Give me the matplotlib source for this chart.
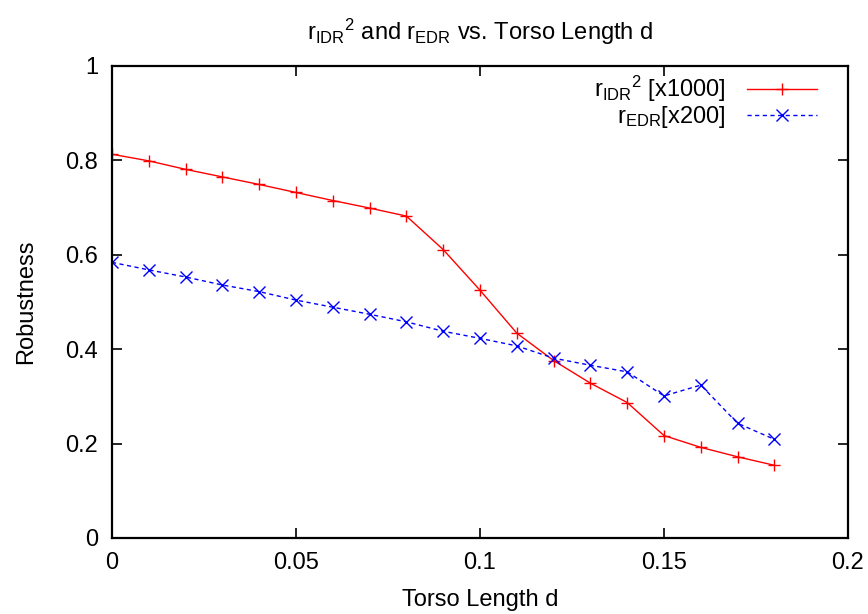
import matplotlib
matplotlib.use("Agg")
import matplotlib.pyplot as plt

plt.rcParams['font.family'] = ['Liberation Sans', 'DejaVu Sans']
plt.rcParams['mathtext.fontset'] = 'custom'
plt.rcParams['mathtext.rm'] = 'Liberation Sans'
plt.rcParams['mathtext.it'] = 'Liberation Sans'

torso_length = [0.00, 0.01, 0.02, 0.03, 0.04, 0.05, 0.06, 0.07, 0.08, 0.09,
                0.10, 0.11, 0.12, 0.13, 0.14, 0.15, 0.16, 0.17, 0.18]
r_idr_sq = [0.813, 0.799, 0.781, 0.765, 0.749, 0.732, 0.715, 0.699, 0.682, 0.611,
            0.525, 0.434, 0.376, 0.328, 0.287, 0.217, 0.192, 0.172, 0.154]
r_edr = [0.584, 0.568, 0.553, 0.536, 0.522, 0.504, 0.489, 0.474, 0.458, 0.438,
         0.423, 0.407, 0.381, 0.366, 0.352, 0.301, 0.324, 0.243, 0.209]

x_ticks = [0, 0.05, 0.1, 0.15, 0.2]
x_tick_labels = ['0', '0.05', '0.1', '0.15', '0.2']
y_ticks = [0, 0.2, 0.4, 0.6, 0.8, 1]
y_tick_labels = ['0', '0.2', '0.4', '0.6', '0.8', '1']

FS = 17

fig = plt.figure(figsize=(8.68, 6.14), dpi=100)
ax = fig.add_axes([112 / 868, 1 - 538 / 614, (848 - 112) / 868, (538 - 66) / 614])

ax.plot(torso_length, r_idr_sq, color='#ff0000', lw=1.0, marker='+', ms=9,
        mew=1.0, label=r'$\mathregular{r_{IDR}}^{\mathregular{2}}$ [x1000]')
ax.plot(torso_length, r_edr, color='#0000ff', lw=1.0, ls=(0, (3, 2.5)), marker='x',
        ms=8.5, mew=1.0, label=r'$\mathregular{r_{EDR}}$[x200]')

ax.set_xlim(0, 0.2)
ax.set_ylim(0, 1)
ax.set_xticks(x_ticks)
ax.set_xticklabels(x_tick_labels)
ax.set_yticks(y_ticks)
ax.set_yticklabels(y_tick_labels)
ax.tick_params(direction='in', length=7, width=1.2, top=True, right=True,
               labelsize=FS, pad=10, colors='black')
for s in ax.spines.values():
    s.set_linewidth(1.6)

ax.set_xlabel('Torso Length d', fontsize=FS, labelpad=11)
ax.set_ylabel('Robustness', fontsize=FS, labelpad=20)
ax.set_title(r'$\mathregular{r_{IDR}}^{\mathregular{2}}$ and $\mathregular{r_{EDR}}$ vs. Torso Length d',
             fontsize=FS, pad=19)

leg = ax.legend(loc='upper right', frameon=False, markerfirst=False, fontsize=FS,
                handlelength=2.97, handletextpad=0.9, labelspacing=0.0,
                borderaxespad=0.0, borderpad=0.0,
                bbox_to_anchor=(817 / 868, 1 - 74 / 614),
                bbox_transform=fig.transFigure)

fig.savefig('out.png', dpi=100)
